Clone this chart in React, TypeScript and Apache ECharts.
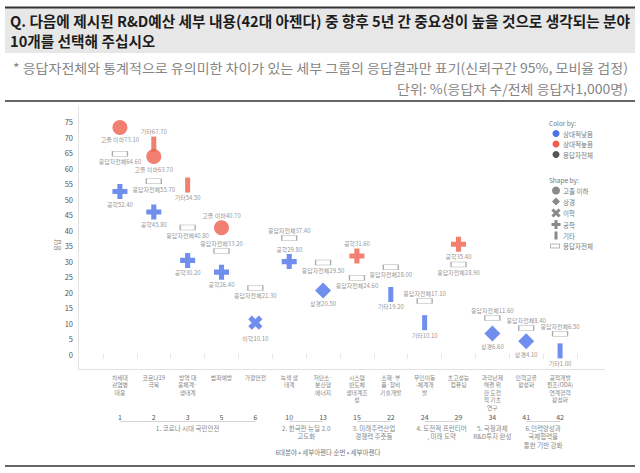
import React, { useEffect, useRef } from "react";
import * as echarts from "echarts";

// ---------- data ----------
const categoryNumbers = ["1", "2", "3", "5", "6", "10", "13", "15", "22", "24", "29", "34", "41", "42"];
const categoryLabels = [
  "차세대\n감염병\n대응",
  "코로나19\n극복",
  "방역 대\n응체계·\n생태계",
  "범죄예방",
  "가정안전",
  "녹색 생\n태계",
  "저탄소·\n분산형\n에너지",
  "시스템\n반도체\n생태계조\n성",
  "소재·부\n품·장비\n기술개발",
  "무인이동\n-체계개\n발",
  "초고성능\n컴퓨팅",
  "과학난제\n해결 위\n한 도전\n적 기초\n연구",
  "인력교류\n활성화",
  "공적개발\n원조(ODA)\n연계협력\n활성화",
];
const groupNames = [
  "1. 코로나 시대 국민안전",
  "2. 한국판 뉴딜 2.0\n고도화",
  "3. 미래주력산업\n경쟁력 주춧돌",
  "4. 도전적 프런티어\n, 미래 도약",
  "5. 국정과제\nR&D투자 완성",
  "6.인력양성과\n국제협력을\n통한 기반 강화",
];
const groupMembers = [["1", "2", "3", "5", "6"], ["10", "13"], ["15", "22"], ["24", "29"], ["34"], ["41", "42"]];

const overallValues = [64.6, 55.7, 40.8, 33.2, 21.3, 37.4, 29.5, 24.6, 28.0, 17.1, 28.9, 11.6, 8.4, 6.5];

// [category number, value, direction]
const highSchool: [string, number, string][] = [["1", 73.1, "high"], ["2", 63.7, "high"], ["5", 40.7, "high"]];
const business: [string, number, string][] = [["13", 20.5, "low"], ["34", 6.6, "low"], ["41", 4.1, "low"]];
const science: [string, number, string][] = [["6", 10.1, "low"]];
const engineering: [string, number, string][] = [
  ["1", 52.4, "low"], ["2", 45.8, "low"], ["3", 30.2, "low"], ["5", 26.4, "low"], ["10", 29.8, "low"],
  ["15", 31.6, "high"], ["29", 35.4, "high"],
];
const others: [string, number, string][] = [["2", 67.7, "high"], ["3", 54.5, "high"], ["22", 19.2, "low"], ["24", 10.1, "low"], ["42", 1.0, "low"]];

const yTicks = { min: -5, max: 80, step: 5 };

// ---------- style ----------
const RED = "#EF604C";
const BLUE = "#4B72E8";
const FONT = "'Noto Sans CJK KR', 'Noto Sans', sans-serif";
const PLUS = "path://M3.3,0H6.7V3.3H10V6.7H6.7V10H3.3V6.7H0V3.3H3.3Z";
const labelAbove = new Set([
  "기타|2", "고졸 이하|5", "응답자전체|5", "응답자전체|10", "공학|10", "공학|15",
  "응답자전체|24", "응답자전체|34", "응답자전체|41", "응답자전체|42",
]);

function pointLabel(name: string) {
  return {
    show: true,
    fontSize: 6,
    color: "#777",
    distance: 2,
    fontFamily: FONT,
    formatter: (p: any) => `${name}${Number(p.value[1]).toFixed(2)}`,
  };
}

function segSeries(name: string, rows: [string, number, string][], symbol: string, size: any, rotate = 0, z = 3) {
  return {
    type: "scatter",
    name,
    z,
    symbol,
    symbolSize: size,
    symbolRotate: rotate,
    xAxisIndex: 0,
    yAxisIndex: 0,
    data: rows.map(([c, v, d]) => ({
      value: [c, v],
      itemStyle: { color: d === "high" ? RED : BLUE },
      label: { position: labelAbove.has(`${name}|${c}`) ? "top" : "bottom" },
    })),
    label: pointLabel(name),
    emphasis: { disabled: true },
  };
}

const measureCtx = typeof document !== "undefined" ? document.createElement("canvas").getContext("2d") : null;
function measure(text: string, size: number, weight: string) {
  if (!measureCtx) return text.length * size;
  measureCtx.font = `${weight} ${size}px "Noto Sans CJK KR"`;
  return measureCtx.measureText(text).width;
}

export default function App() {
  const ref = useRef<HTMLDivElement>(null);
  useEffect(() => {
    const chart = echarts.init(ref.current!, null, { renderer: "svg" });
    const option: any = {
      animation: false,
      backgroundColor: "#fff",
      textStyle: { fontFamily: FONT },
      grid: { left: 103, right: 63, top: 106, bottom: 103.5, containLabel: false },
      xAxis: [
        {
          type: "category",
          data: categoryNumbers,
          position: "bottom",
          axisLine: { show: false },
          axisTick: { show: true, length: 5, interval: 0, lineStyle: { color: "#e8e8e8" } },
          axisLabel: {
            interval: 0,
            fontSize: 5.8,
            lineHeight: 7.5,
            color: "#888",
            margin: 4,
            fontFamily: FONT,
            formatter: (_v: string, i: number) => categoryLabels[i],
          },
          splitLine: { show: false },
        },
        {
          type: "category",
          data: categoryNumbers,
          position: "bottom",
          offset: 44,
          axisLine: { show: false },
          axisTick: { show: false },
          axisLabel: { interval: 0, fontSize: 7, color: "#555", margin: 0, fontFamily: FONT },
          splitLine: { show: false },
        },
      ],
      yAxis: {
        type: "value",
        min: yTicks.min,
        max: yTicks.max,
        interval: yTicks.step,
        offset: 25,
        axisLine: { show: true, lineStyle: { color: "#e2e2e2" } },
        axisTick: { show: false },
        splitLine: { show: false },
        axisLabel: {
          fontSize: 7.5,
          color: "#555",
          margin: 5,
          formatter: (v: number) => (v < 0 || v > 75 ? "" : String(v)),
        },
      },
      series: [
        {
          type: "scatter",
          name: "응답자전체",
          z: 2,
          symbol: "rect",
          symbolSize: [15, 5],
          itemStyle: { color: "#fff", borderColor: "#999", borderWidth: 0.8 },
          data: categoryNumbers.map((c, i) => ({
            value: [c, overallValues[i]],
            label: { position: labelAbove.has(`응답자전체|${c}`) ? "top" : "bottom" },
          })),
          label: pointLabel("응답자전체"),
          emphasis: { disabled: true },
        },
        segSeries("기타", others, "rect", [5, 15], 0, 3),
        segSeries("고졸 이하", highSchool, "circle", 15, 0, 4),
        segSeries("공학", engineering, PLUS, 15, 0, 4),
        segSeries("상경", business, "diamond", 16, 0, 4),
        segSeries("이학", science, PLUS, 15, 45, 4),
      ],
    };
    chart.setOption(option);

    // ---------- layout-dependent graphics ----------
    const g: any[] = [];
    // header
    g.push({ type: "rect", shape: { x: 5, y: 8, width: 630, height: 45 }, style: { fill: "#e7e7e7" }, silent: true });
    g.push({ type: "line", shape: { x1: 5, y1: 7.5, x2: 635, y2: 7.5 }, style: { stroke: "#333", lineWidth: 2 } });
    const t1 = "Q. 다음에 제시된 R&D예산 세부 내용(42대 아젠다) 중 향후 5년 간 중요성이 높을 것으로 생각되는 분야";
    const t2 = "10개를 선택해 주십시오";
    const ts = 620 / measure(t1, 15, "bold");
    g.push({ type: "text", x: 10, y: 20, scaleX: ts, style: { text: t1, fontSize: 15, fontWeight: "bold", fontFamily: FONT, fill: "#1d1d1d", align: "left", verticalAlign: "middle" } });
    g.push({ type: "text", x: 10, y: 40, scaleX: ts, style: { text: t2, fontSize: 15, fontWeight: "bold", fontFamily: FONT, fill: "#1d1d1d", align: "left", verticalAlign: "middle" } });
    const s1 = "* 응답자전체와 통계적으로 유의미한 차이가 있는 세부 그룹의 응답결과만 표기(신뢰구간 95%, 모비율 검정)";
    const s2 = "단위: %(응답자 수/전체 응답자1,000명)";
    const ss = 615 / measure(s1, 13, "normal");
    g.push({ type: "text", x: 13, y: 67, scaleX: ss, style: { text: s1, fontSize: 13, fontFamily: FONT, fill: "#858585", align: "left", verticalAlign: "middle" } });
    g.push({ type: "text", x: 628, y: 88, scaleX: ss, style: { text: s2, fontSize: 13, fontFamily: FONT, fill: "#858585", align: "right", verticalAlign: "middle" } });
    g.push({ type: "line", shape: { x1: 5, y1: 101, x2: 635, y2: 101 }, style: { stroke: "#333", lineWidth: 1.5 } });
    g.push({ type: "line", shape: { x1: 5, y1: 466, x2: 635, y2: 466 }, style: { stroke: "#333", lineWidth: 1.5 } });

    // x baseline
    const yBottom = chart.convertToPixel({ yAxisIndex: 0 }, yTicks.min) as number;
    g.push({ type: "line", shape: { x1: 78, y1: yBottom, x2: 605, y2: yBottom }, style: { stroke: "#e2e2e2", lineWidth: 1 } });

    // y axis name
    g.push({ type: "text", x: 57, y: 245, rotation: Math.PI / 2, style: { text: "응답", fontSize: 6.5, fontFamily: FONT, fill: "#777", align: "center", verticalAlign: "middle" } });

    // groups
    groupMembers.forEach((members, gi) => {
      const xs = members.map((c) => chart.convertToPixel({ xAxisIndex: 0 }, c) as number);
      const x0 = Math.min(...xs);
      const x1 = Math.max(...xs);
      if (members.length > 1) {
        g.push({ type: "line", shape: { x1: x0, y1: 421.5, x2: x1, y2: 421.5 }, style: { stroke: "#c8c8c8", lineWidth: 0.8 } });
      }
      g.push({
        type: "text",
        x: (x0 + x1) / 2,
        y: 423.5,
        style: { text: groupNames[gi], fontSize: 6.5, lineHeight: 8.6, fontFamily: FONT, fill: "#8a8a8a", align: "center", verticalAlign: "top" },
      });
    });
    g.push({ type: "text", x: 328, y: 451.5, style: { text: "6대분야 • 세부아젠다 순번 • 세부아젠다", fontSize: 6.5, fontFamily: FONT, fill: "#777", align: "center", verticalAlign: "middle" } });

    // legend
    const lt = (x: number, y: number, text: string) => ({ type: "text", x, y, style: { text, fontSize: 6.5, fontFamily: FONT, fill: "#777", align: "left", verticalAlign: "middle" } });
    g.push(lt(549, 123, "Color by:"));
    [["상대적낮음", BLUE, 133.5], ["상대적높음", RED, 144], ["응답자전체", "#555", 154.5]].forEach(([name, col, y]: any) => {
      g.push({ type: "circle", shape: { cx: 556, cy: y, r: 3.5 }, style: { fill: col } });
      g.push(lt(563, y, name));
    });
    g.push(lt(549, 180, "Shape by:"));
    const gray = "#8a8a8a";
    const plusPts = (h: number, t: number) => [[-t, -h], [t, -h], [t, -t], [h, -t], [h, t], [t, t], [t, h], [-t, h], [-t, t], [-h, t], [-h, -t], [-t, -t]];
    g.push({ type: "circle", shape: { cx: 556, cy: 190.5, r: 4 }, style: { fill: gray } });
    g.push(lt(563, 190.5, "고졸 이하"));
    g.push({ type: "polygon", shape: { points: [[556, 197.5], [560, 201.5], [556, 205.5], [552, 201.5]] }, style: { fill: gray } });
    g.push(lt(563, 201.5, "상경"));
    g.push({ type: "polygon", x: 556, y: 213, rotation: Math.PI / 4, shape: { points: plusPts(5, 1.5) }, style: { fill: gray } });
    g.push(lt(563, 213, "이학"));
    g.push({ type: "polygon", x: 556, y: 224.5, shape: { points: plusPts(4.5, 1.5) }, style: { fill: gray } });
    g.push(lt(563, 224.5, "공학"));
    g.push({ type: "rect", shape: { x: 554.5, y: 231.5, width: 3, height: 8 }, style: { fill: gray } });
    g.push(lt(563, 235.5, "기타"));
    g.push({ type: "rect", shape: { x: 550.5, y: 244, width: 9, height: 4 }, style: { fill: "#fff", stroke: "#999", lineWidth: 0.7 } });
    g.push(lt(563, 246, "응답자전체"));

    chart.setOption({ graphic: g });
    return () => chart.dispose();
  }, []);
  return <div ref={ref} style={{ position: "fixed", left: 0, top: 0, width: 640, height: 473, background: "#fff" }} />;
}
